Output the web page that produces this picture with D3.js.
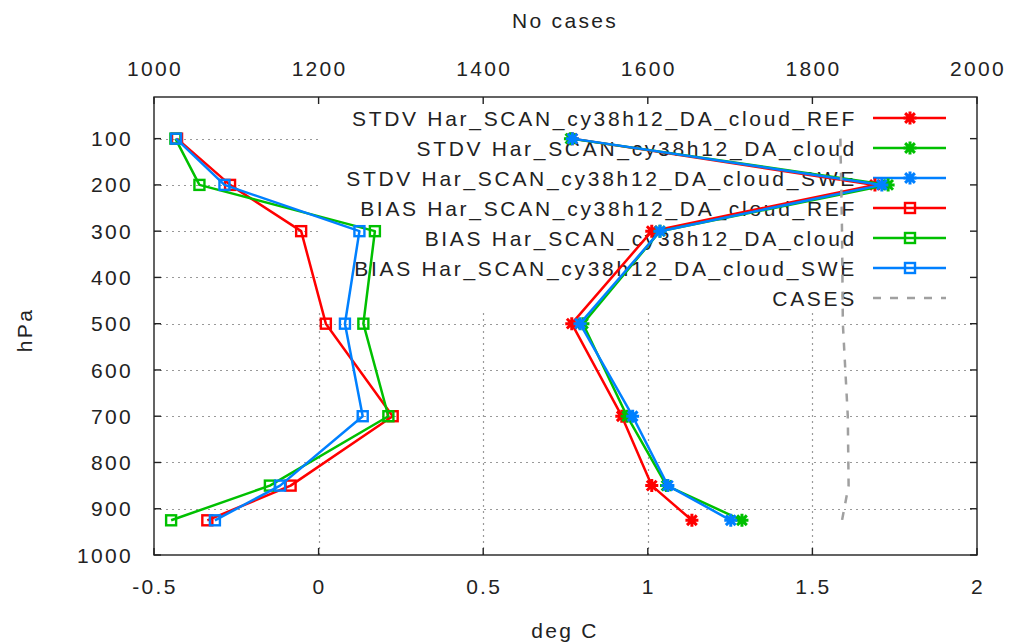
<!DOCTYPE html>
<html>
<head>
<meta charset="utf-8">
<script src="https://cdn.jsdelivr.net/npm/d3@7"></script>
<style>
	body { margin: 0; background: #fff; }
	text { font-family: "Liberation Sans", Arial, sans-serif; fill: #222; }
</style>
</head>
<body>
<svg id="chart" width="1010" height="643"></svg>
<script>
// pressure levels (hPa)
var levels = [100, 200, 300, 500, 700, 850, 925];

// STDV (deg C)
var stdvRef   = [0.77, 1.69, 1.012, 0.769, 0.921, 1.012, 1.134];
var stdvCloud = [0.765, 1.73, 1.037, 0.803, 0.937, 1.057, 1.286];
var stdvSwe   = [0.771, 1.711, 1.037, 0.794, 0.954, 1.061, 1.252];

// BIAS (deg C)
var biasRef   = [-0.43, -0.269, -0.053, 0.022, 0.225, -0.085, -0.338];
var biasCloud = [-0.435, -0.362, 0.171, 0.136, 0.212, -0.148, -0.448];
var biasSwe   = [-0.433, -0.286, 0.124, 0.080, 0.134, -0.117, -0.315];

// number of cases (top axis)
var cases = [1834, 1835, 1836, 1837, 1843, 1844, 1836];

var xTicks = [-0.5, 0, 0.5, 1, 1.5, 2];
var x2Ticks = [1000, 1200, 1400, 1600, 1800, 2000];
var yTicks = [100, 200, 300, 400, 500, 600, 700, 800, 900, 1000];
var gridX = [0, 0.5, 1, 1.5];
var gridY = [100, 200, 300, 400, 500, 600, 700, 800, 900];

var legendLabels = [
	"STDV Har_SCAN_cy38h12_DA_cloud_REF",
	"STDV Har_SCAN_cy38h12_DA_cloud",
	"STDV Har_SCAN_cy38h12_DA_cloud_SWE",
	"BIAS Har_SCAN_cy38h12_DA_cloud_REF",
	"BIAS Har_SCAN_cy38h12_DA_cloud",
	"BIAS Har_SCAN_cy38h12_DA_cloud_SWE",
	"CASES"
];

var red = "#ff0000", green = "#00c000", blue = "#0080ff", grey = "#a0a0a0";

var pLeft = 154, pRight = 977, pTop = 97, pBottom = 555;
var keyLeft = 318, keyBottom = 313;

var x = d3.scaleLinear().domain([-0.5, 2]).range([pLeft, pRight]);
var x2 = d3.scaleLinear().domain([1000, 2000]).range([pLeft, pRight]);
var y = d3.scaleLinear().domain([10, 1000]).range([pTop, pBottom]);

var svg = d3.select("#chart");

var series = [
	{ name: legendLabels[0], vals: stdvRef,   color: red,   mark: "star" },
	{ name: legendLabels[1], vals: stdvCloud, color: green, mark: "star" },
	{ name: legendLabels[2], vals: stdvSwe,   color: blue,  mark: "star" },
	{ name: legendLabels[3], vals: biasRef,   color: red,   mark: "box" },
	{ name: legendLabels[4], vals: biasCloud, color: green, mark: "box" },
	{ name: legendLabels[5], vals: biasSwe,   color: blue,  mark: "box" }
];

// grid (kept out of the key area)
var gGrid = svg.append("g")
			.attr("stroke", "#999")
			.attr("stroke-width", 1.2)
			.attr("stroke-dasharray", "2,4");

gridY.forEach(function(v)
{
	var yy = Math.round(y(v)) + 0.5;
	var xEnd = (yy < keyBottom) ? keyLeft : pRight;
	gGrid.append("line").attr("x1", pLeft).attr("x2", xEnd).attr("y1", yy).attr("y2", yy);
});
gridX.forEach(function(v)
{
	var xx = Math.round(x(v)) + 0.5;
	var y0 = (xx > keyLeft) ? keyBottom : pTop;
	gGrid.append("line").attr("x1", xx).attr("x2", xx).attr("y1", y0).attr("y2", pBottom);
});

// key text
var rowY = function(i) { return 118 + i * 30; };
var gKey = svg.append("g");
legendLabels.forEach(function(t, i)
{
	gKey.append("text")
		.attr("x", 857)
		.attr("y", rowY(i))
		.attr("dy", "0.36em")
		.attr("text-anchor", "end")
		.attr("font-size", 21)
		.attr("letter-spacing", 2.7)
		.text(t);
});

function drawStar(g, cx, cy, color)
{
	var r = 6.5;
	var p = "M" + (cx - r) + "," + cy + "H" + (cx + r) +
			"M" + cx + "," + (cy - r) + "V" + (cy + r) +
			"M" + (cx - r * 0.75) + "," + (cy - r * 0.75) + "L" + (cx + r * 0.75) + "," + (cy + r * 0.75) +
			"M" + (cx - r * 0.75) + "," + (cy + r * 0.75) + "L" + (cx + r * 0.75) + "," + (cy - r * 0.75);
	g.append("path")
		.attr("d", p)
		.attr("stroke", color)
		.attr("stroke-width", 3)
		.attr("fill", "none");
}

function drawBox(g, cx, cy, color)
{
	g.append("rect")
		.attr("x", cx - 5)
		.attr("y", cy - 5)
		.attr("width", 10)
		.attr("height", 10)
		.attr("stroke", color)
		.attr("stroke-width", 2.4)
		.attr("fill", "none");
}

var line = d3.line()
			.x(function(d) { return d[0]; })
			.y(function(d) { return d[1]; });

var gData = svg.append("g");

series.forEach(function(s, i)
{
	var pts = s.vals.map(function(v, k) { return [x(v), y(levels[k])]; });
	gData.append("path")
		.attr("d", line(pts))
		.attr("fill", "none")
		.attr("stroke", s.color)
		.attr("stroke-width", 2.5)
		.attr("stroke-linejoin", "round");
	pts.forEach(function(p)
	{
		if(s.mark == "star") drawStar(gData, p[0], p[1], s.color);
		else drawBox(gData, p[0], p[1], s.color);
	});

	// key sample
	var ky = rowY(i);
	gKey.append("line")
		.attr("x1", 873).attr("x2", 946)
		.attr("y1", ky).attr("y2", ky)
		.attr("stroke", s.color)
		.attr("stroke-width", 2.5);
	if(s.mark == "star") drawStar(gKey, 910, ky, s.color);
	else drawBox(gKey, 910, ky, s.color);
});

// cases on the top axis
var casePts = cases.map(function(v, k) { return [x2(v), y(levels[k])]; });
gData.append("path")
	.attr("d", line(casePts))
	.attr("fill", "none")
	.attr("stroke", grey)
	.attr("stroke-width", 2.5)
	.attr("stroke-dasharray", "8,9");
gKey.append("line")
	.attr("x1", 873).attr("x2", 946)
	.attr("y1", rowY(6)).attr("y2", rowY(6))
	.attr("stroke", grey)
	.attr("stroke-width", 2.5)
	.attr("stroke-dasharray", "8,9");

// frame and ticks
var gAxes = svg.append("g").attr("stroke", "#222").attr("stroke-width", 1.4);
gAxes.append("rect")
	.attr("x", pLeft).attr("y", pTop)
	.attr("width", pRight - pLeft).attr("height", pBottom - pTop)
	.attr("fill", "none");

var tl = 7;
xTicks.forEach(function(v)
{
	var xx = x(v);
	gAxes.append("line").attr("x1", xx).attr("x2", xx).attr("y1", pBottom).attr("y2", pBottom - tl);
});
x2Ticks.forEach(function(v)
{
	var xx = x2(v);
	gAxes.append("line").attr("x1", xx).attr("x2", xx).attr("y1", pTop).attr("y2", pTop + tl);
});
yTicks.forEach(function(v)
{
	var yy = y(v);
	gAxes.append("line").attr("x1", pLeft).attr("x2", pLeft + tl).attr("y1", yy).attr("y2", yy);
	gAxes.append("line").attr("x1", pRight).attr("x2", pRight - tl).attr("y1", yy).attr("y2", yy);
});

// tick labels
var fs = 21, ls = 2.3;
xTicks.forEach(function(v)
{
	svg.append("text")
		.attr("x", x(v) + 1).attr("y", 586).attr("dy", "0.36em")
		.attr("text-anchor", "middle")
		.attr("font-size", fs).attr("letter-spacing", ls)
		.text(String(v));
});
x2Ticks.forEach(function(v)
{
	svg.append("text")
		.attr("x", x2(v) + 1).attr("y", 68).attr("dy", "0.36em")
		.attr("text-anchor", "middle")
		.attr("font-size", fs).attr("letter-spacing", ls)
		.text(v);
});
yTicks.forEach(function(v)
{
	svg.append("text")
		.attr("x", 133).attr("y", y(v)).attr("dy", "0.36em")
		.attr("text-anchor", "end")
		.attr("font-size", fs).attr("letter-spacing", ls)
		.text(v);
});

// axis titles
svg.append("text")
	.attr("x", 565).attr("y", 20).attr("dy", "0.36em")
	.attr("text-anchor", "middle")
	.attr("font-size", fs).attr("letter-spacing", ls)
	.text("No cases");
svg.append("text")
	.attr("x", 565).attr("y", 630).attr("dy", "0.36em")
	.attr("text-anchor", "middle")
	.attr("font-size", fs).attr("letter-spacing", ls)
	.text("deg C");
svg.append("text")
	.attr("transform", "translate(24,330) rotate(-90)")
	.attr("dy", "0.36em")
	.attr("text-anchor", "middle")
	.attr("font-size", fs).attr("letter-spacing", ls)
	.text("hPa");
</script>
</body>
</html>
